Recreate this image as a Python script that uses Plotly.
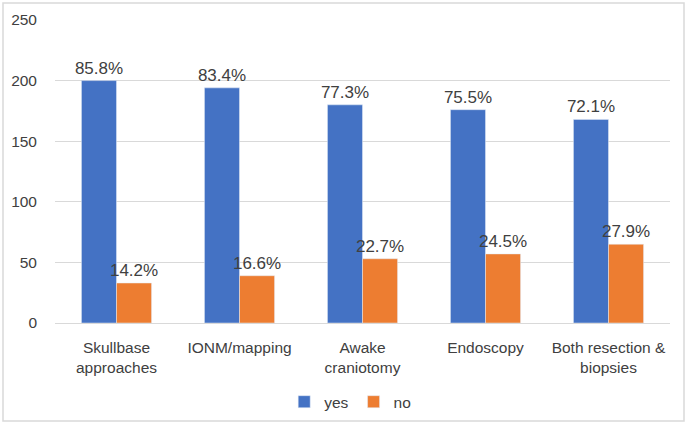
import plotly.graph_objects as go

categories = ["Skullbase<br>approaches", "IONM/mapping", "Awake<br>craniotomy",
              "Endoscopy", "Both resection &<br>biopsies"]
yes_counts = [200, 194, 180, 176, 168]
no_counts = [33, 39, 53, 57, 65]
yes_pct = ["85.8%", "83.4%", "77.3%", "75.5%", "72.1%"]
no_pct = ["14.2%", "16.6%", "22.7%", "24.5%", "27.9%"]

FONT = "Liberation Sans, Arial, sans-serif"
GREY = "#404040"

fig = go.Figure()
fig.add_trace(go.Bar(x=categories, y=yes_counts, name="yes", marker_color="#4472C4",
                     text=yes_pct, textposition="outside", cliponaxis=False,
                     constraintext="none", textfont=dict(size=17, color=GREY)))
fig.add_trace(go.Bar(x=categories, y=no_counts, name="no", marker_color="#ED7D31",
                     text=no_pct, textposition="outside", cliponaxis=False,
                     constraintext="none", textfont=dict(size=17, color=GREY)))

# light frame round the whole chart, as in the original export
L, R, T, B = 55, 18, 20, 102
W, H = 688, 425
pw, ph = W - L - R, H - T - B
fig.add_shape(type="rect", xref="paper", yref="paper",
              x0=(3 - L) / pw, x1=(W - 4 - L) / pw,
              y0=-(H - 4 - T - ph) / ph, y1=1 + (T - 3) / ph,
              line=dict(color="#d9d9d9", width=1.5), fillcolor="rgba(0,0,0,0)")

fig.update_layout(
    width=W, height=H, barmode="group", bargap=0.43, bargroupgap=0,
    plot_bgcolor="white", paper_bgcolor="white",
    font=dict(family=FONT, size=15, color=GREY),
    margin=dict(l=L, r=R, t=T, b=B, autoexpand=False),
    xaxis=dict(showgrid=False, tickfont=dict(size=15.5, color=GREY), ticks="",
               showline=True, linecolor="#d9d9d9", linewidth=1,
               ticklabelstandoff=10, automargin=False),
    yaxis=dict(range=[0, 250], dtick=50, showgrid=True, gridcolor="#d9d9d9",
               gridwidth=1, zeroline=False, ticks="", ticklabelstandoff=17,
               tickfont=dict(size=15.5, color=GREY), automargin=False),
    legend=dict(orientation="h", x=0.48, xanchor="center", y=-0.205, yanchor="top",
                bgcolor="rgba(0,0,0,0)", font=dict(size=15.5, color=GREY),
                itemwidth=30, tracegroupgap=0),
    showlegend=True,
)

# page body has a default 8px margin; drop it so the chart sits at the window corner
fig.write_html("out.html", config={"displayModeBar": False},
               post_script="document.body.style.margin='0';")
